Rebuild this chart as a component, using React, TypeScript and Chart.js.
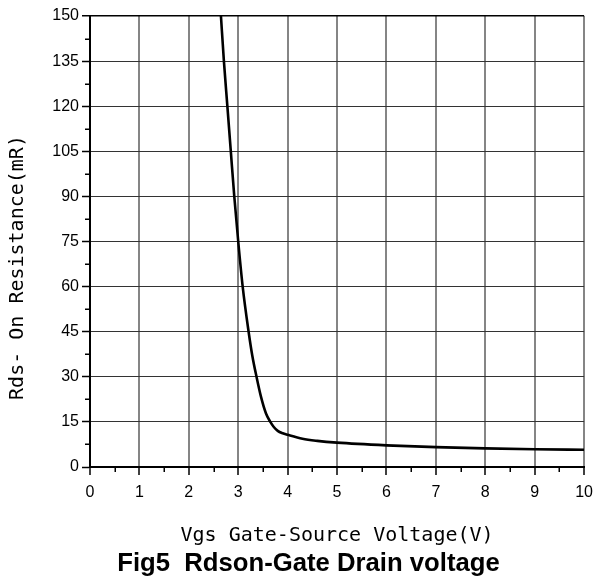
import React, { useEffect, useRef } from "react";
import { Chart, registerables } from "chart.js";

Chart.register(...registerables);

// Data
const vgs = [2.65, 2.71, 2.78, 2.85, 2.92, 3.0, 3.09, 3.21, 3.285, 3.37, 3.46, 3.56, 3.65, 3.72, 3.8, 3.9, 4.0, 4.3, 4.6, 5, 6, 7, 8, 9, 10];
const rdson = [150, 135, 120, 105, 90, 75, 60, 45, 37, 30, 23.4, 17.9, 15, 13.3, 12.0, 11.2, 10.7, 9.4, 8.7, 8.1, 7.2, 6.6, 6.2, 5.9, 5.75];

const xMin = 0;
const xMax = 10;
const xStep = 1;
const yMin = 0;
const yMax = 150;
const yStep = 15;

const xTitle = "Vgs Gate-Source Voltage(V)";
const yTitle = "Rds- On Resistance(mR)";
const figTitle = "Fig5  Rdson-Gate Drain voltage";

const extrasPlugin = {
  id: "extras",
  afterDraw(chart: any) {
    const { ctx, chartArea, scales } = chart;
    const xs = scales.x;
    const ys = scales.y;
    ctx.save();
    ctx.strokeStyle = "#000";
    ctx.lineWidth = 1.5;
    // minor ticks x
    for (let v = xMin + xStep / 2; v < xMax; v += xStep) {
      const px = Math.round(xs.getPixelForValue(v)) + 0.25;
      ctx.beginPath();
      ctx.moveTo(px, chartArea.bottom);
      ctx.lineTo(px, chartArea.bottom + 5);
      ctx.stroke();
    }
    // minor ticks y
    for (let v = yMin + yStep / 2; v < yMax; v += yStep) {
      const py = Math.round(ys.getPixelForValue(v)) + 0.25;
      ctx.beginPath();
      ctx.moveTo(chartArea.left - 5, py);
      ctx.lineTo(chartArea.left, py);
      ctx.stroke();
    }
    // y axis title
    ctx.fillStyle = "#000";
    ctx.font = '20px "DejaVu Sans Mono"';
    ctx.textAlign = "center";
    ctx.textBaseline = "middle";
    ctx.translate(17.5, 267.5);
    ctx.rotate(-Math.PI / 2);
    ctx.fillText(yTitle, 0, 0);
    ctx.restore();
    // figure title
    ctx.save();
    ctx.fillStyle = "#000";
    ctx.font = 'bold 25.7px "Liberation Sans", Arial, sans-serif';
    ctx.textAlign = "center";
    ctx.textBaseline = "middle";
    ctx.fillText(figTitle, 308.5, 564);
    ctx.restore();
  },
};

export default function App() {
  const ref = useRef<HTMLCanvasElement | null>(null);
  useEffect(() => {
    if (!ref.current) return;
    const chart = new Chart(ref.current, {
      type: "scatter",
      data: {
        datasets: [
          {
            data: vgs.map((x, i) => ({ x, y: rdson[i] })),
            showLine: true,
            borderColor: "#000",
            borderWidth: 2.6,
            pointRadius: 0,
            cubicInterpolationMode: "monotone",
          } as any,
        ],
      },
      options: {
        responsive: false,
        animation: false,
        layout: { padding: { left: 0, top: 16, right: 11, bottom: 0 } },
        plugins: {
          legend: { display: false },
          tooltip: { enabled: false },
          title: { display: false },
        },
        scales: {
          x: {
            type: "linear",
            min: xMin,
            max: xMax,
            afterFit: (s: any) => {
              s.height = 112;
            },
            ticks: {
              stepSize: xStep,
              color: "#000",
              padding: 8,
              font: { family: '"Liberation Sans", Arial, sans-serif', size: 16 },
            },
            grid: {
              color: "#858585",
              lineWidth: 2,
              tickLength: 8,
              tickColor: "#000",
              tickWidth: 1.5,
            },
            border: { display: true, color: "#000", width: 2 },
            title: {
              display: true,
              text: xTitle,
              color: "#000",
              font: { family: '"DejaVu Sans Mono", monospace', size: 20 },
              padding: { top: 0, bottom: 31 },
            },
          },
          y: {
            type: "linear",
            min: yMin,
            max: yMax,
            afterFit: (s: any) => {
              s.width = 90;
            },
            ticks: {
              stepSize: yStep,
              color: "#000",
              padding: 3,
              font: { family: '"Liberation Sans", Arial, sans-serif', size: 16 },
            },
            grid: {
              color: (c: any) => (c.tick && c.tick.value === yMax ? "#000" : "#333"),
              lineWidth: (c: any) => (c.tick && c.tick.value === yMax ? 1.5 : 1),
              tickLength: 8,
              tickColor: "#000",
              tickWidth: 1.5,
            },
            border: { display: true, color: "#000", width: 2 },
          },
        },
      },
      plugins: [extrasPlugin],
    });
    return () => chart.destroy();
  }, []);
  return (
    <div style={{ position: "absolute", left: 0, top: 0, width: 601, height: 579 }}>
      <canvas ref={ref} width={601} height={579} style={{ display: "block" }} />
    </div>
  );
}
